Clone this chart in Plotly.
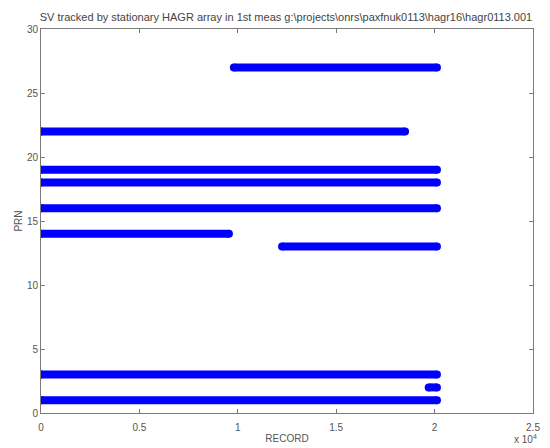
import plotly.graph_objects as go

prn = [27, 22, 19, 18, 16, 14, 13, 3, 2, 1]
rec_start = [9800, 0, 0, 0, 0, 0, 12250, 0, 19700, 0]
rec_end = [20120, 18500, 20120, 20120, 20120, 9550, 20120, 20120, 20120, 20120]

x_tickvals = [0, 5000, 10000, 15000, 20000, 25000]
x_ticktext = ["0", "0.5", "1", "1.5", "2", "2.5"]
y_tickvals = [0, 5, 10, 15, 20, 25, 30]

title_text = "SV tracked by stationary HAGR array in 1st meas g:\\projects\\onrs\\paxfnuk0113\\hagr16\\hagr0113.001"

fig = go.Figure()
for p, s, e in zip(prn, rec_start, rec_end):
    fig.add_trace(go.Scatter(
        x=[s, e], y=[p, p], mode="lines+markers",
        line=dict(color="#0000ff", width=8),
        marker=dict(color="#0000ff", size=8, line=dict(width=0)),
        showlegend=False, hoverinfo="skip"))

axis_common = dict(
    showgrid=False, zeroline=False, showline=True, mirror="allticks",
    linecolor="#7a7a7a", linewidth=1, ticks="inside", ticklen=4, automargin=False,
    tickcolor="#7a7a7a", tickfont=dict(family="Liberation Sans, Arial", size=10, color="#555"),
)

fig.update_layout(
    width=550, height=448,
    margin=dict(l=41, r=17, t=29, b=35),
    paper_bgcolor="white", plot_bgcolor="white",
    title=dict(text=title_text, x=0.52, xanchor="center", y=0.962, yanchor="middle",
               font=dict(family="Liberation Sans, Arial", size=11, color="#444")),
    xaxis=dict(range=[0, 25000], tickvals=x_tickvals, ticktext=x_ticktext,
               ticklabelstandoff=5,
               title=dict(text="RECORD", standoff=2,
                          font=dict(family="Liberation Sans, Arial", size=10, color="#555")),
               **axis_common),
    yaxis=dict(range=[0, 30], tickvals=y_tickvals,
               title=dict(text="PRN", standoff=2,
                          font=dict(family="Liberation Sans, Arial", size=10, color="#555")),
               **axis_common),
    annotations=[dict(text="x 10<sup>4</sup>", xref="paper", yref="paper", x=0.985, y=-0.048,
                      xanchor="center", yanchor="top", showarrow=False,
                      font=dict(family="Liberation Sans, Arial", size=10, color="#555"))],
)

fig.write_html("out.html")
